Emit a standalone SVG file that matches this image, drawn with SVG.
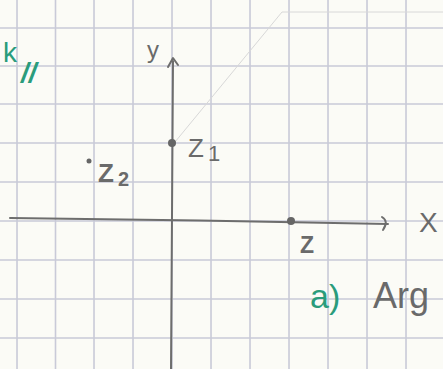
<svg xmlns="http://www.w3.org/2000/svg" width="443" height="369" viewBox="0 0 443 369">
<style>
.grid{stroke:#c9cad8;stroke-width:1.6;fill:none}
.pencil{stroke:#6d6d6d;stroke-width:2;fill:none;stroke-linecap:round;stroke-linejoin:round}
.lbl{font-family:"Liberation Sans",Arial,sans-serif;fill:#6a6a6a}
.green{font-family:"Liberation Sans",Arial,sans-serif;fill:#2a9c7c}
.dot{fill:#666}
</style>
<rect width="443" height="369" fill="#fbfbf6"/>
<g id="grid" class="grid">
<path d="M17 0V369M55.5 0V369M94 0V369M133 0V369M172 0V369M211 0V369M250 0V369M289 0V369M328 0V369M367 0V369M406 0V369"/>
<path d="M0 28H443M0 66H443M0 104H443M0 143H443M0 182H443M0 221H443M0 260H443M0 299H443M0 338H443"/>
</g>
<path d="M175 142L282 12H443" stroke="#d8d8d8" stroke-width="1" fill="none"/>
<g id="connectors">
<path id="x-axis" class="pencil" d="M10 218Q200 220 388 224"/>
<path class="pencil" d="M382 217Q389 221 383 230"/>
<path id="y-axis" class="pencil" d="M173 61Q172 200 171 369"/>
<path class="pencil" d="M168 67L173 58L178 65"/>
</g>
<g id="axis-x-label"><text class="lbl" x="419" y="232" font-size="28">X</text></g>
<g id="axis-y-label"><text class="lbl" x="147" y="58" font-size="24">y</text></g>
<g id="z1">
<circle class="dot" cx="172" cy="143" r="4"/>
<text class="lbl" x="188" y="157" font-size="26">Z<tspan font-size="22" dx="4" dy="4">1</tspan></text>
</g>
<g id="z2">
<circle class="dot" cx="89" cy="161" r="2.5"/>
<text class="lbl" x="98" y="182" font-size="26" font-weight="bold">Z<tspan font-size="20" dx="4" dy="4">2</tspan></text>
</g>
<g id="z">
<circle class="dot" cx="291" cy="221" r="4"/>
<text class="lbl" x="300" y="253" font-size="23" font-weight="bold">Z</text>
</g>
<g id="note-top">
<text class="green" x="3" y="62" font-size="28">k<tspan font-size="28" font-style="italic" font-weight="bold" dx="4" dy="20">//</tspan></text>
</g>
<g id="note-a">
<text class="green" x="310" y="308" font-size="34">a)</text>
<text class="lbl" x="373" y="308" font-size="36">Arg</text>
</g>
</svg>
